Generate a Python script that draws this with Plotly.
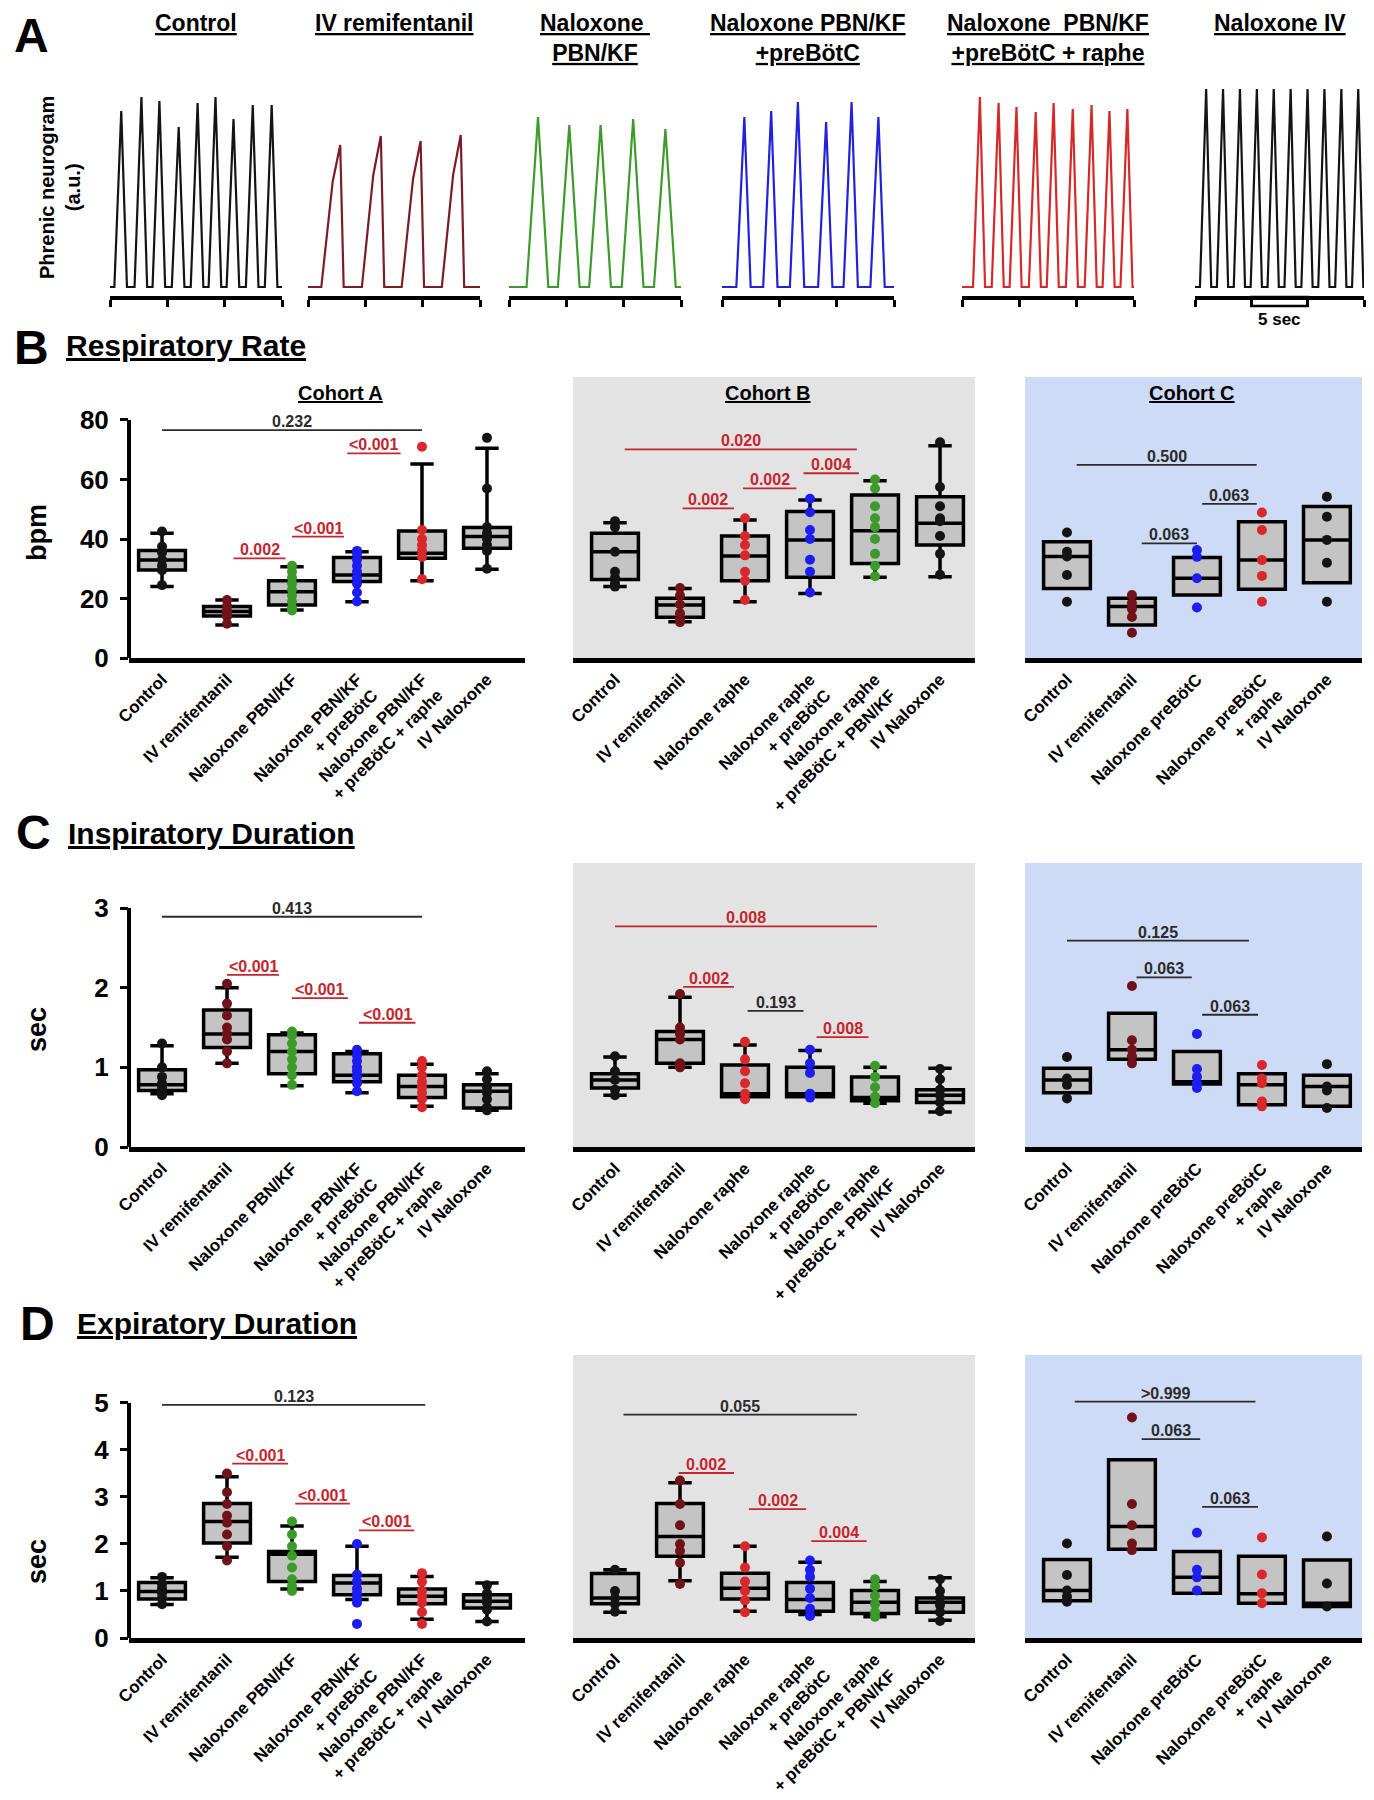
import plotly.graph_objects as go

# reference canvas is 1374 x 1800; the page body adds an 8 px margin, so the
# figure is drawn 8 px smaller and every layout position is offset by 8 px
W, H = 1374, 1800
OFF = 8
FW, FH = W - OFF, H - OFF
FONT = "Liberation Sans, Arial, Helvetica, sans-serif"

BLACK = "#141414"
MAROON = "#6f1219"
GREEN = "#3c9a2b"
BLUE = "#1d1df2"
RED = "#d9272b"
P_RED = "#c3262e"
P_GREY = "#2b2b2b"
BOX_FILL = "#c4c4c4"
BG_B = "#e3e3e3"
BG_C = "#cedbf6"

# ---------------- panel A : phrenic neurograms (15 s windows) ----------------
TRACE_TITLES = ["Control", "IV remifentanil", "Naloxone <br>PBN/KF",
                "Naloxone PBN/KF<br>+preBötC", "Naloxone  PBN/KF<br>+preBötC + raphe",
                "Naloxone IV"]
TRACE_COLORS = [BLACK, "#7b1d27", "#3f9a2e", "#2222d8", "#d42a2a", BLACK]
PEAK_T = [
    [0.98, 2.74, 4.31, 5.99, 7.64, 9.20, 10.77, 12.45, 14.10],
    [2.81, 6.35, 9.82, 13.32],
    [2.53, 5.26, 7.99, 10.83, 13.64],
    [1.95, 4.29, 6.62, 9.08, 11.30, 13.64],
    [1.56, 3.19, 4.75, 6.43, 7.99, 9.66, 11.30, 12.86, 14.42],
    [0.99, 2.49, 3.99, 5.49, 6.99, 8.49, 9.99, 11.49, 12.99, 14.49],
]
PEAK_AMP = [
    [0.88, 0.95, 0.93, 0.80, 0.92, 0.95, 0.84, 0.91, 0.91],
    [0.71, 0.755, 0.73, 0.76],
    [0.85, 0.81, 0.81, 0.84, 0.79],
    [0.85, 0.88, 0.925, 0.825, 0.925, 0.85],
    [0.95, 0.92, 0.90, 0.875, 0.92, 0.89, 0.91, 0.88, 0.89],
    [0.99, 0.99, 0.99, 0.99, 0.99, 0.99, 0.99, 0.99, 0.99, 0.99],
]
RISE = [0.6, 1.65, 1.0, 0.7, 0.6, 0.55]
FALL = [0.5, 0.3, 0.9, 0.55, 0.45, 0.45]
TRACE_DOM = [(110, 282), (308, 480), (509, 681), (722, 894), (962, 1134), (1195, 1364)]

# ---------------- box plot panels ----------------
LABELS_A = ["Control", "IV remifentanil", "Naloxone PBN/KF", "Naloxone PBN/KF<br>+ preBötC",
            "Naloxone PBN/KF<br>+ preBötC + raphe", "IV Naloxone"]
LABELS_B = ["Control", "IV remifentanil", "Naloxone raphe", "Naloxone raphe<br>+ preBötC",
            "Naloxone raphe<br>+ preBötC + PBN/KF", "IV Naloxone"]
LABELS_C = ["Control", "IV remifentanil", "Naloxone preBötC", "Naloxone preBötC<br>+ raphe",
            "IV Naloxone"]
COLORS_A = [BLACK, MAROON, GREEN, BLUE, RED, BLACK]
COLORS_B = [BLACK, MAROON, RED, BLUE, GREEN, BLACK]
COLORS_C = [BLACK, MAROON, BLUE, RED, BLACK]

# respiratory rate (bpm)
RATE_A_LO = [24.0, 11.1, 16.1, 18.9, 26.0, 29.8]
RATE_A_Q1 = [29.6, 14.1, 17.8, 25.7, 33.5, 36.9]
RATE_A_MED = [32.9, 15.6, 22.3, 27.9, 35.2, 40.8]
RATE_A_Q3 = [36.1, 17.3, 26.0, 33.8, 42.7, 43.9]
RATE_A_HI = [41.9, 19.5, 30.7, 35.7, 65.2, 70.5]
RATE_A_PTS = [[42.5, 37.5, 35.5, 33.0, 31.0, 29.5, 24.5],
              [19.5, 17.5, 16.0, 15.0, 14.0, 11.5],
              [31.0, 29.0, 27.0, 25.0, 23.0, 21.0, 19.0, 17.0, 16.0],
              [36.0, 35.0, 33.0, 31.0, 29.0, 27.0, 25.0, 22.0, 19.0],
              [71.0, 43.0, 40.0, 38.0, 36.0, 34.0, 26.5],
              [74.0, 57.0, 44.0, 42.0, 40.0, 38.0, 36.0, 30.0]]

RATE_B_LO = [24.0, 12.2, 18.9, 21.7, 27.1, 27.3]
RATE_B_Q1 = [26.4, 13.7, 26.0, 27.1, 31.8, 38.0]
RATE_B_MED = [35.7, 17.8, 34.3, 39.7, 42.8, 45.3]
RATE_B_Q3 = [41.9, 20.1, 41.0, 49.2, 54.8, 54.2]
RATE_B_HI = [45.5, 23.4, 46.4, 53.1, 59.6, 71.3]
RATE_B_PTS = [[46.0, 44.0, 35.7, 29.0, 27.0, 25.0, 24.0],
              [23.5, 21.0, 18.0, 15.0, 13.0, 12.0],
              [47.0, 41.0, 38.0, 34.5, 29.0, 26.0, 19.5],
              [53.5, 49.0, 43.0, 40.0, 33.0, 29.0, 22.0],
              [60.0, 57.0, 51.0, 47.0, 44.0, 40.0, 35.0, 31.0, 27.5],
              [72.5, 57.5, 51.0, 47.0, 46.0, 41.0, 35.0, 28.0]]

RATE_C_Q1 = [23.4, 11.1, 21.2, 23.1, 25.3]
RATE_C_MED = [34.1, 17.3, 26.8, 32.9, 39.7]
RATE_C_Q3 = [39.1, 20.1, 33.8, 45.8, 50.9]
RATE_C_PTS = [[42.2, 35.7, 34.1, 27.9, 18.9],
              [21.2, 18.5, 16.5, 13.8, 8.5],
              [36.3, 34.0, 26.8, 17.0],
              [48.9, 43.0, 32.9, 27.6, 18.9],
              [54.2, 47.5, 39.7, 32.0, 18.9]]

# inspiratory duration (s)
TI_A_LO = [0.67, 1.05, 0.77, 0.68, 0.51, 0.46]
TI_A_Q1 = [0.71, 1.25, 0.92, 0.82, 0.62, 0.49]
TI_A_MED = [0.78, 1.42, 1.20, 0.90, 0.76, 0.70]
TI_A_Q3 = [0.97, 1.72, 1.41, 1.17, 0.90, 0.78]
TI_A_HI = [1.27, 2.00, 1.43, 1.20, 1.04, 0.92]
TI_A_PTS = [[1.30, 1.00, 0.88, 0.80, 0.74, 0.68, 0.65],
            [2.05, 1.80, 1.65, 1.50, 1.42, 1.35, 1.20, 1.05],
            [1.45, 1.40, 1.30, 1.20, 1.10, 1.00, 0.90, 0.78],
            [1.22, 1.15, 1.08, 1.00, 0.95, 0.88, 0.80, 0.70],
            [1.08, 1.00, 0.90, 0.82, 0.75, 0.68, 0.60, 0.50],
            [0.95, 0.85, 0.75, 0.68, 0.60, 0.50, 0.46]]

TI_B_LO = [0.65, 1.00, 0.63, 0.63, 0.55, 0.44]
TI_B_Q1 = [0.74, 1.05, 0.63, 0.63, 0.58, 0.56]
TI_B_MED = [0.84, 1.35, 0.67, 0.67, 0.62, 0.65]
TI_B_Q3 = [0.92, 1.45, 1.03, 1.00, 0.88, 0.72]
TI_B_HI = [1.13, 1.88, 1.28, 1.21, 1.00, 0.99]
TI_B_PTS = [[1.14, 0.95, 0.84, 0.72, 0.65],
            [1.92, 1.50, 1.42, 1.35, 1.05, 1.00],
            [1.32, 1.10, 0.95, 0.80, 0.67, 0.60],
            [1.22, 1.05, 0.93, 0.67, 0.62],
            [1.02, 0.88, 0.75, 0.63, 0.55],
            [0.98, 0.85, 0.72, 0.65, 0.56, 0.45]]

TI_C_Q1 = [0.68, 1.10, 0.79, 0.53, 0.51]
TI_C_MED = [0.84, 1.22, 0.82, 0.78, 0.76]
TI_C_Q3 = [0.99, 1.68, 1.20, 0.92, 0.90]
TI_C_PTS = [[1.13, 0.86, 0.78, 0.61],
            [2.02, 1.34, 1.22, 1.14, 1.05],
            [1.42, 0.98, 0.88, 0.80, 0.74],
            [1.03, 0.86, 0.80, 0.57, 0.51],
            [1.04, 0.76, 0.71, 0.49]]

# expiratory duration (s)
TE_A_LO = [0.71, 1.72, 1.04, 0.82, 0.40, 0.35]
TE_A_Q1 = [0.83, 2.02, 1.20, 0.92, 0.73, 0.64]
TE_A_MED = [0.99, 2.48, 1.78, 1.17, 0.89, 0.78]
TE_A_Q3 = [1.18, 2.86, 1.84, 1.33, 1.04, 0.92]
TE_A_HI = [1.28, 3.43, 2.38, 1.95, 1.31, 1.17]
TE_A_PTS = [[1.30, 1.15, 1.05, 0.95, 0.85, 0.72],
            [3.50, 3.10, 2.85, 2.60, 2.45, 2.20, 1.95, 1.65],
            [2.48, 2.20, 1.95, 1.75, 1.50, 1.25, 1.10, 1.00],
            [2.00, 1.35, 1.20, 1.05, 0.95, 0.85, 0.75, 0.30],
            [1.38, 1.20, 1.00, 0.88, 0.75, 0.55, 0.30],
            [1.12, 0.95, 0.85, 0.75, 0.60, 0.35]]

TE_B_LO = [0.55, 1.22, 0.57, 0.50, 0.45, 0.38]
TE_B_Q1 = [0.73, 1.74, 0.83, 0.57, 0.52, 0.55]
TE_B_MED = [0.85, 2.16, 1.06, 0.82, 0.76, 0.76]
TE_B_Q3 = [1.37, 2.86, 1.38, 1.18, 1.01, 0.85]
TE_B_HI = [1.45, 3.30, 1.95, 1.61, 1.20, 1.28]
TE_B_PTS = [[1.45, 1.00, 0.85, 0.72, 0.56],
            [3.35, 2.85, 2.40, 2.00, 1.85, 1.60, 1.15],
            [1.95, 1.50, 1.20, 1.00, 0.80, 0.55],
            [1.65, 1.45, 1.30, 1.05, 0.85, 0.62, 0.47],
            [1.25, 1.10, 0.90, 0.72, 0.55, 0.45],
            [1.25, 1.00, 0.85, 0.70, 0.55, 0.36]]

TE_C_Q1 = [0.79, 1.89, 0.95, 0.74, 0.67]
TE_C_MED = [1.01, 2.37, 1.29, 0.94, 0.74]
TE_C_Q3 = [1.67, 3.79, 1.84, 1.74, 1.66]
TE_C_PTS = [[2.01, 1.34, 1.01, 0.88, 0.77],
            [4.69, 2.85, 2.40, 2.01, 1.87],
            [2.24, 1.45, 1.29, 1.01],
            [2.14, 1.35, 0.95, 0.74],
            [2.16, 1.16, 0.67]]

# P values: (from group, to group, height, label, significant)
SIG_RATE_A = [(0, 4, 76.6, "0.232", False), (1.1, 1.9, 33.5, "0.002", True),
              (2.0, 2.8, 40.8, "<0.001", True), (2.85, 3.67, 68.8, "<0.001", True)]
SIG_RATE_B = [(0.15, 3.72, 70.1, "0.020", True), (1.04, 1.83, 50.3, "0.002", True),
              (1.97, 2.79, 57.0, "0.002", True), (2.9, 3.75, 62.1, "0.004", True)]
SIG_RATE_C = [(0.15, 2.92, 64.9, "0.500", False), (1.15, 2.0, 38.5, "0.063", False),
              (2.08, 2.92, 51.8, "0.063", False)]
SIG_TI_A = [(0, 4, 2.89, "0.413", False), (1.0, 1.8, 2.16, "<0.001", True),
            (2.0, 2.86, 1.87, "<0.001", True), (3.03, 3.9, 1.56, "<0.001", True)]
SIG_TI_B = [(0, 4.03, 2.77, "0.008", True), (1.05, 1.83, 2.01, "0.002", True),
            (2.04, 2.9, 1.71, "0.193", False), (3.1, 3.9, 1.38, "0.008", True)]
SIG_TI_C = [(0.0, 2.8, 2.59, "0.125", False), (1.07, 1.92, 2.13, "0.063", False),
            (2.08, 2.94, 1.66, "0.063", False)]
SIG_TE_A = [(0, 4.05, 4.96, "0.123", False), (1.08, 1.94, 3.71, "<0.001", True),
            (2.05, 2.89, 2.86, "<0.001", True), (3.03, 3.88, 2.29, "<0.001", True)]
SIG_TE_B = [(0.13, 3.72, 4.75, "0.055", False), (0.98, 1.83, 3.51, "0.002", True),
            (2.06, 2.94, 2.74, "0.002", True), (3.02, 3.87, 2.06, "0.004", True)]
SIG_TE_C = [(0.12, 2.9, 5.03, ">0.999", False), (1.15, 2.05, 4.23, "0.063", False),
            (2.08, 2.94, 2.79, "0.063", False)]


def ref(n):
    return ("x" if n == 1 else f"x{n}"), ("y" if n == 1 else f"y{n}")


def key(a, n):
    return f"{a}axis" if n == 1 else f"{a}axis{n}"


def neurogram(peaks, amps, rise, fall, shoulder=None):
    xs, ys = [0.0], [0.0]
    for t, a in zip(peaks, amps):
        xs.append(t - rise)
        ys.append(0.0)
        if shoulder:
            xs.append(t - rise + shoulder[0] * rise)
            ys.append(shoulder[1] * a)
        xs += [t, t + fall]
        ys += [a, 0.0]
    xs.append(15.0)
    ys.append(0.0)
    return xs, ys


fig = go.Figure()
layout = {}
annotations = []
shapes = []


def px_x(v):
    return (v - OFF) / FW


def px_y(v):
    return 1 - (v - OFF) / FH


def text(t, x, y, size, color="black", bold=True, **kw):
    d = dict(text=t, x=x, y=y, xref=kw.pop("xref", "paper"), yref=kw.pop("yref", "paper"),
             xanchor=kw.pop("xanchor", "center"), yanchor=kw.pop("yanchor", "middle"),
             showarrow=False, font=dict(family=FONT, size=size, color=color,
                                        weight="bold" if bold else "normal"))
    d.update(kw)
    annotations.append(d)


# ---- panel A
for i in range(6):
    n = i + 1
    xr, yr = ref(n)
    xs, ys = neurogram(PEAK_T[i], PEAK_AMP[i], RISE[i], FALL[i],
                       shoulder=(0.6, 0.74) if i == 1 else None)
    fig.add_trace(go.Scatter(x=xs, y=ys, mode="lines", hoverinfo="skip",
                             line=dict(color=TRACE_COLORS[i], width=2.2),
                             xaxis=xr, yaxis=yr, showlegend=False))
    layout[key("x", n)] = dict(domain=[px_x(TRACE_DOM[i][0]), px_x(TRACE_DOM[i][1])],
                               range=[0, 15], anchor=yr, showline=True, linecolor="black",
                               linewidth=3.5, ticks="outside", tickvals=[0, 5, 10, 15],
                               ticklen=7, tickwidth=3, tickcolor="black", automargin=False,
                               showticklabels=False, showgrid=False, zeroline=False)
    layout[key("y", n)] = dict(domain=[px_y(296), px_y(87)], range=[-0.045, 1.0],
                               visible=False, anchor=xr, automargin=False)
    title = "<br>".join(f"<u>{part}</u>" for part in TRACE_TITLES[i].split("<br>"))
    text(title, 0.5, px_y(8), 23, xref=f"{xr} domain", yanchor="top")

text("Phrenic neurogram<br>(a.u.)", px_x(60), px_y(188), 20, textangle=-90)
shapes.append(dict(type="rect", xref="x6", yref="paper", x0=5, x1=10,
                   y0=px_y(297), y1=px_y(306), line=dict(color="black", width=2.5)))
text("5 sec", 7.5, px_y(320), 17, xref="x6")

# ---- panel letters / headings
for letter, x, y in [("A", 12, 35), ("B", 12, 348), ("C", 14, 832), ("D", 18, 1323)]:
    text(letter, px_x(x), px_y(y), 48, xanchor="left")
for head, x, y in [("Respiratory Rate", 64, 345), ("Inspiratory Duration", 66, 833),
                   ("Expiratory Duration", 75, 1323)]:
    text(f"<u>{head}</u>", px_x(x), px_y(y), 30, xanchor="left")
for name, x in [("Cohort A", 340), ("Cohort B", 768), ("Cohort C", 1192)]:
    text(f"<u>{name}</u>", px_x(x), px_y(393), 20)

# ---- box plot grid
COLS = [((129, 525), (-0.508, 5.585), LABELS_A, COLORS_A, None),
        ((573, 975), (-0.646, 5.538), LABELS_B, COLORS_B, BG_B),
        ((1025, 1362), (-0.646, 4.54), LABELS_C, COLORS_C, BG_C)]
ROWS = [(658, 377, 94.45, [0, 20, 40, 60, 80], "bpm", 533),
        (1147, 863, 3.565, [0, 1, 2, 3], "sec", 1030),
        (1638, 1355, 6.02, [0, 1, 2, 3, 4, 5], "sec", 1562)]
STATS = [
    [(RATE_A_LO, RATE_A_Q1, RATE_A_MED, RATE_A_Q3, RATE_A_HI, RATE_A_PTS, SIG_RATE_A),
     (RATE_B_LO, RATE_B_Q1, RATE_B_MED, RATE_B_Q3, RATE_B_HI, RATE_B_PTS, SIG_RATE_B),
     (RATE_C_Q1, RATE_C_Q1, RATE_C_MED, RATE_C_Q3, RATE_C_Q3, RATE_C_PTS, SIG_RATE_C)],
    [(TI_A_LO, TI_A_Q1, TI_A_MED, TI_A_Q3, TI_A_HI, TI_A_PTS, SIG_TI_A),
     (TI_B_LO, TI_B_Q1, TI_B_MED, TI_B_Q3, TI_B_HI, TI_B_PTS, SIG_TI_B),
     (TI_C_Q1, TI_C_Q1, TI_C_MED, TI_C_Q3, TI_C_Q3, TI_C_PTS, SIG_TI_C)],
    [(TE_A_LO, TE_A_Q1, TE_A_MED, TE_A_Q3, TE_A_HI, TE_A_PTS, SIG_TE_A),
     (TE_B_LO, TE_B_Q1, TE_B_MED, TE_B_Q3, TE_B_HI, TE_B_PTS, SIG_TE_B),
     (TE_C_Q1, TE_C_Q1, TE_C_MED, TE_C_Q3, TE_C_Q3, TE_C_PTS, SIG_TE_C)],
]

n = 6
for r, (ybot, ytop, ymax, yticks, ytitle, ytitle_y) in enumerate(ROWS):
    text(ytitle, px_x(37), px_y(ytitle_y), 27, textangle=-90)
    for c, (xdom, xrng, labels, colors, bg) in enumerate(COLS):
        n += 1
        xr, yr = ref(n)
        lo, q1, med, q3, hi, pts, sigs = STATS[r][c]
        layout[key("x", n)] = dict(domain=[px_x(xdom[0]), px_x(xdom[1])], range=list(xrng),
                                   anchor=yr, showline=True, linecolor="black", linewidth=5,
                                   tickvals=list(range(len(labels))), ticktext=labels,
                                   tickangle=-45, ticks="", showgrid=False, zeroline=False,
                                   automargin=False,
                                   tickfont=dict(family=FONT, size=17, color="black",
                                                 weight="bold"))
        yax = dict(domain=[px_y(ybot), px_y(ytop)], range=[0, ymax], anchor=xr,
                   showgrid=False, zeroline=False, showline=False, automargin=False)
        if c == 0:
            yax.update(tickvals=yticks, ticks="outside", ticklen=8, tickwidth=3,
                       tickcolor="black", ticklabelstandoff=6,
                       tickfont=dict(family=FONT, size=26, color="black", weight="bold"))
            shapes.append(dict(type="line", xref=f"{xr} domain", yref=yr, x0=0, x1=0,
                               y0=0, y1=yticks[-1], line=dict(color="black", width=4)))
        else:
            yax.update(showticklabels=False, ticks="")
            shapes.append(dict(type="rect", xref=f"{xr} domain", yref=f"{yr} domain",
                               x0=0, x1=1, y0=0, y1=1, fillcolor=bg, layer="below",
                               line=dict(width=0)))
        layout[key("y", n)] = yax

        for g in range(len(labels)):
            fig.add_trace(go.Box(x=[g], lowerfence=[lo[g]], q1=[q1[g]], median=[med[g]],
                                 q3=[q3[g]], upperfence=[hi[g]], width=0.72, whiskerwidth=0.5,
                                 fillcolor=BOX_FILL, line=dict(color="black", width=3.5),
                                 boxpoints=False, hoverinfo="skip", showlegend=False,
                                 xaxis=xr, yaxis=yr))
        for g in range(len(labels)):
            fig.add_trace(go.Scatter(x=[g] * len(pts[g]), y=pts[g], mode="markers",
                                     marker=dict(color=colors[g], size=10), cliponaxis=False,
                                     hoverinfo="skip", showlegend=False, xaxis=xr, yaxis=yr))
        for x0, x1, y, lab, sig in sigs:
            col = P_RED if sig else P_GREY
            shapes.append(dict(type="line", xref=xr, yref=yr, x0=x0, x1=x1, y0=y, y1=y,
                               line=dict(color=col, width=1.8)))
            text(lab, (x0 + x1) / 2, y, 16, color=col, xref=xr, yref=yr,
                 yanchor="bottom", yshift=-2)

fig.update_layout(template="none", width=FW, height=FH,
                  margin=dict(l=0, r=0, t=0, b=0, pad=0, autoexpand=False),
                  paper_bgcolor="white", plot_bgcolor="rgba(0,0,0,0)",
                  font=dict(family=FONT, color="black"), showlegend=False,
                  annotations=annotations, shapes=shapes, **layout)

fig.write_html("out.html")
